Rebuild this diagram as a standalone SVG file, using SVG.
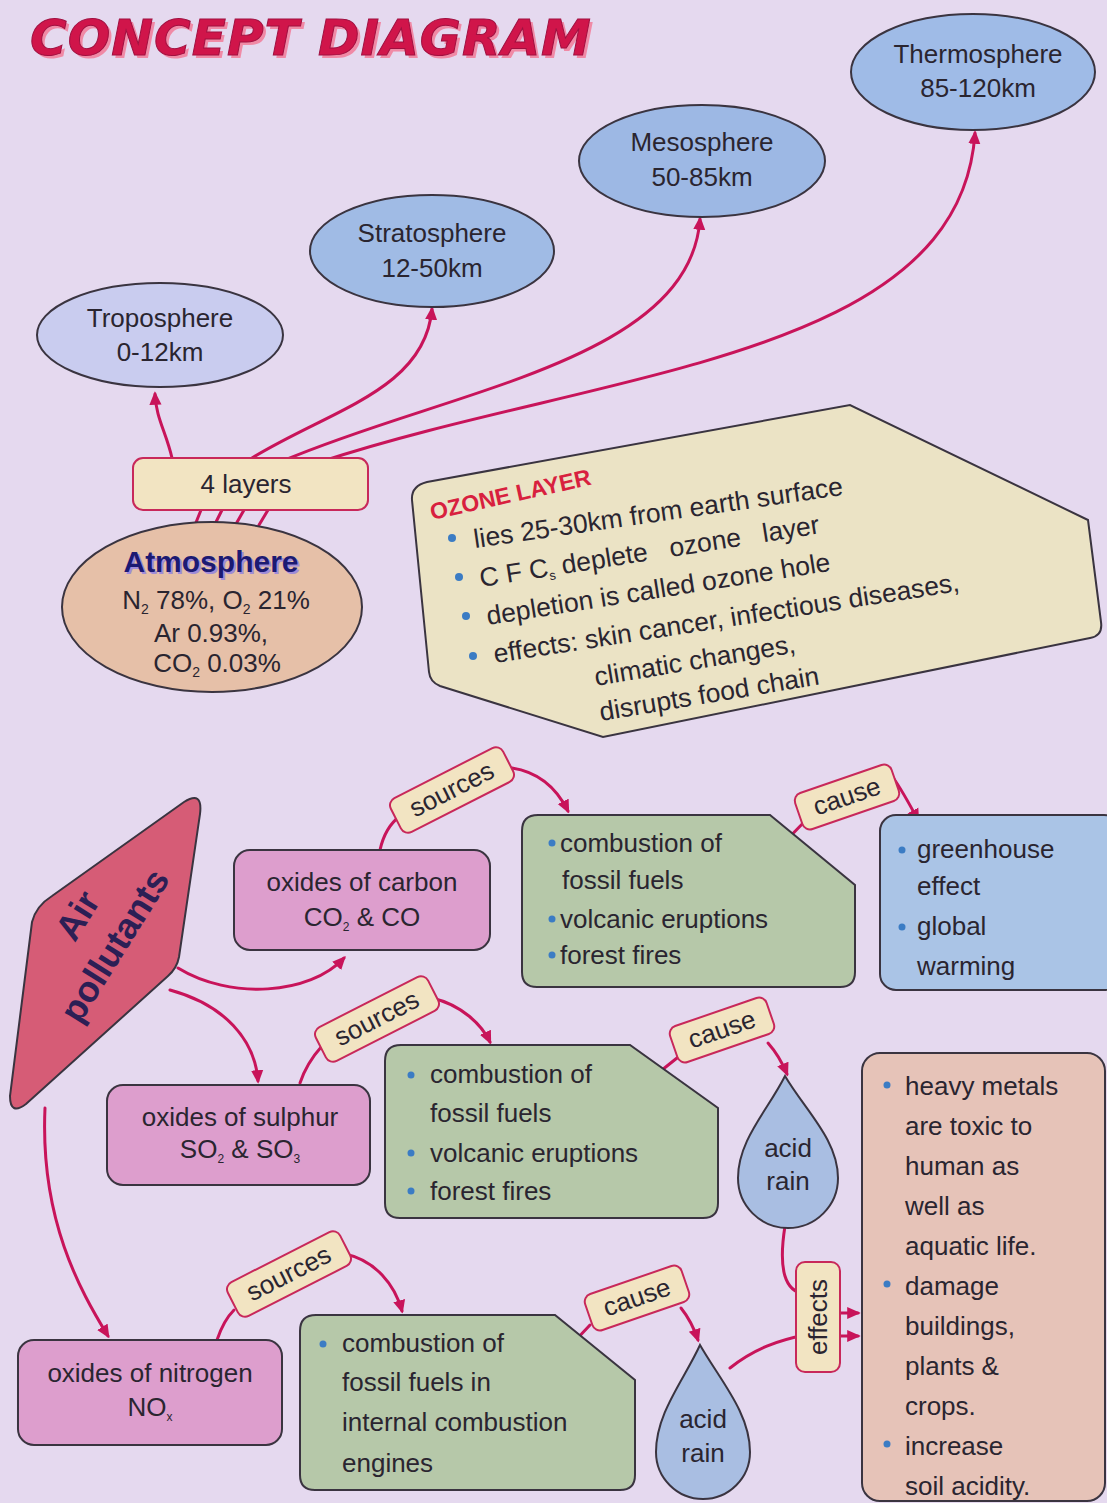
<svg xmlns="http://www.w3.org/2000/svg" width="1107" height="1503" viewBox="0 0 1107 1503">
<style>
.t{font-family:"Liberation Sans",Arial,sans-serif;fill:#2a2530;}
.c{text-anchor:middle;}
.f25{font-size:26px;}
.f24{font-size:26px;}
.node{stroke:#3a3440;stroke-width:2;}
.lbl{fill:#f2e4c2;stroke:#c8285a;stroke-width:2;}
.con{fill:none;stroke:#c8145a;stroke-width:3;stroke-linecap:round;}
.arr{marker-end:url(#ah);}
.dot{fill:#3b7cc4;}
</style>
<defs>
<marker id="ah" viewBox="0 0 10 10" refX="8" refY="5" markerWidth="4.5" markerHeight="4.5" orient="auto">
<path d="M0,0.5 L10,5 L0,9.5 Z" fill="#c8145a"/>
</marker>
</defs>
<rect x="0" y="0" width="1107" height="1503" fill="#e5d9ef"/>

<g id="title">
<text x="33" y="58" font-family="DejaVu Sans,sans-serif" font-weight="bold" font-style="italic" font-size="50" fill="#f08aa6" letter-spacing="1">CONCEPT DIAGRAM</text>
<text x="30" y="55" font-family="DejaVu Sans,sans-serif" font-weight="bold" font-style="italic" font-size="50" fill="#d0154a" stroke="#a01040" stroke-width="1" letter-spacing="1">CONCEPT DIAGRAM</text>
</g>

<g id="connectors">
<path class="con arr" d="M172,458 C166,432 156,418 155,394"/>
<path class="con arr" d="M252,458 C330,410 425,390 432,309"/>
<path class="con arr" d="M285,460 C450,390 690,360 700,219"/>
<path class="con arr" d="M320,462 C600,370 960,360 975,133"/>
<path class="con" d="M195,525 L201,510"/>
<path class="con" d="M215,524 L222,510"/>
<path class="con" d="M236,524 L244,510"/>
<path class="con" d="M259,525 L268,510"/>

<path class="con arr" d="M178,968 C230,1000 310,995 344,958"/>
<path class="con arr" d="M170,990 C225,1005 255,1040 258,1081"/>
<path class="con arr" d="M45,1108 C40,1220 80,1290 108,1336"/>

<path class="con" d="M380,850 C384,832 392,822 400,816"/>
<path class="con arr" d="M512,768 C545,773 560,795 568,811"/>
<path class="con" d="M300,1083 C305,1068 313,1056 322,1046"/>
<path class="con arr" d="M432,998 C462,1005 482,1025 490,1042"/>
<path class="con" d="M217,1340 C222,1325 228,1316 234,1310"/>
<path class="con arr" d="M345,1254 C375,1260 395,1285 402,1311"/>

<path class="con" d="M775,852 L808,818"/>
<path class="con arr" d="M892,776 C902,790 910,805 918,820"/>
<path class="con" d="M652,1078 L682,1054"/>
<path class="con arr" d="M768,1043 C776,1052 782,1062 787,1074"/>
<path class="con" d="M557,1360 L590,1325"/>
<path class="con arr" d="M681,1308 C689,1318 694,1328 698,1340"/>

<path class="con" d="M785,1226 C778,1270 785,1292 805,1294"/>
<path class="con" d="M730,1368 C755,1348 780,1340 805,1335"/>
<path class="con arr" d="M840,1313 L858,1313"/>
<path class="con arr" d="M840,1336 L858,1336"/>
</g>

<g id="troposphere">
<ellipse class="node" cx="160" cy="335" rx="123" ry="52" fill="#c9ccef"/>
<text class="t c f24" x="160" y="327">Troposphere</text>
<text class="t c f24" x="160" y="361">0-12km</text>
</g>
<g id="stratosphere">
<ellipse class="node" cx="432" cy="251" rx="122" ry="56" fill="#a0bbe5"/>
<text class="t c f24" x="432" y="242">Stratosphere</text>
<text class="t c f24" x="432" y="277">12-50km</text>
</g>
<g id="mesosphere">
<ellipse class="node" cx="702" cy="161" rx="123" ry="56" fill="#9db8e4"/>
<text class="t c f24" x="702" y="151">Mesosphere</text>
<text class="t c f24" x="702" y="186">50-85km</text>
</g>
<g id="thermosphere">
<ellipse class="node" cx="973" cy="72" rx="122" ry="58" fill="#9fbbe7"/>
<text class="t c f24" x="978" y="63">Thermosphere</text>
<text class="t c f24" x="978" y="97">85-120km</text>
</g>

<g id="layers">
<rect class="lbl" x="133" y="458" width="235" height="52" rx="10"/>
<text class="t c f24" x="246" y="493">4 layers</text>
</g>

<g id="atmosphere">
<ellipse class="node" cx="212" cy="607" rx="150" ry="85" fill="#e6c0a8"/>
<text x="213" y="574" text-anchor="middle" font-family="Liberation Sans,Arial,sans-serif" font-weight="bold" font-size="30" fill="#a08cd8">Atmosphere</text>
<text x="211" y="572" text-anchor="middle" font-family="Liberation Sans,Arial,sans-serif" font-weight="bold" font-size="30" fill="#1c1a72">Atmosphere</text>
<text class="t c f24" x="216" y="609">N<tspan font-size="14" dy="5">2</tspan><tspan dy="-5"> 78%, O</tspan><tspan font-size="14" dy="5">2</tspan><tspan dy="-5"> 21%</tspan></text>
<text class="t c f24" x="211" y="642">Ar 0.93%,</text>
<text class="t c f24" x="217" y="672">CO<tspan font-size="14" dy="5">2</tspan><tspan dy="-5"> 0.03%</tspan></text>
</g>

<g id="ozone">
<path class="node" fill="#ebe3c5" d="M427,482 L850,405 L1088,520 L1101,622 Q1103,636 1090,638 L603,737 L440,686 Q430,682 429,672 L412,500 Q411,486 427,482 Z"/>
<text transform="rotate(-12.5 432 520)" x="432" y="520" font-family="Liberation Sans,Arial,sans-serif" font-weight="bold" font-size="23" fill="#d8203e">OZONE LAYER</text>
<circle class="dot" cx="452" cy="538" r="4"/>
<text class="t" transform="rotate(-8.2 475 548)" x="475" y="548" font-size="26.5">lies 25-30km from earth surface</text>
<circle class="dot" cx="459" cy="577" r="4"/>
<text class="t" transform="rotate(-9 481 587)" x="481" y="587" font-size="26.5" style="white-space:pre">C F C<tspan font-size="13" dy="4">s</tspan><tspan dy="-4"> deplete   ozone   layer</tspan></text>
<circle class="dot" cx="466" cy="616" r="4"/>
<text class="t" transform="rotate(-9 488 625)" x="488" y="625" font-size="26.5">depletion is called ozone hole</text>
<circle class="dot" cx="473" cy="656" r="4"/>
<text class="t" transform="rotate(-8.8 495 663)" x="495" y="663" font-size="26.5">effects: skin cancer, infectious diseases,</text>
<text class="t" transform="rotate(-9.5 596 686)" x="596" y="686" font-size="26.5">climatic changes,</text>
<text class="t" transform="rotate(-9.5 601 721)" x="601" y="721" font-size="26.5">disrupts food chain</text>
</g>

<g id="air-pollutants">
<path class="node" fill="#d65c76" d="M32,922 Q36,906 52,896 L184,802 Q203,790 200,814 L179,957 Q177,968 168,976 L26,1104 Q10,1116 10,1096 Z"/>
<text transform="rotate(-58 88 922)" x="88" y="922" text-anchor="middle" font-family="Liberation Sans,Arial,sans-serif" font-weight="bold" font-size="36" fill="#2c1f55">Air</text>
<text transform="rotate(-58 125 952)" x="125" y="952" text-anchor="middle" font-family="Liberation Sans,Arial,sans-serif" font-weight="bold" font-size="36" fill="#2c1f55">pollutants</text>
</g>

<g id="oxides-carbon">
<rect class="node" x="234" y="850" width="256" height="100" rx="16" fill="#dd9ecd"/>
<text class="t c f24" x="362" y="891">oxides of carbon</text>
<text class="t c f24" x="362" y="926">CO<tspan font-size="12" dy="5">2</tspan><tspan dy="-5"> &amp; CO</tspan></text>
</g>
<g id="oxides-sulphur">
<rect class="node" x="107" y="1085" width="263" height="100" rx="16" fill="#dd9ecd"/>
<text class="t c f24" x="240" y="1126">oxides of sulphur</text>
<text class="t c f24" x="240" y="1158">SO<tspan font-size="12" dy="5">2</tspan><tspan dy="-5"> &amp; SO</tspan><tspan font-size="12" dy="5">3</tspan></text>
</g>
<g id="oxides-nitrogen">
<rect class="node" x="18" y="1340" width="264" height="105" rx="16" fill="#dd9ecd"/>
<text class="t c f24" x="150" y="1382">oxides of nitrogen</text>
<text class="t c f24" x="150" y="1416">NO<tspan font-size="12" dy="5">x</tspan></text>
</g>

<g id="sources-1">
<rect class="lbl" x="-63" y="-19" width="126" height="38" rx="8" transform="translate(452,790) rotate(-27)"/>
<text class="t c f24" transform="translate(452,790) rotate(-27)" x="0" y="8">sources</text>
</g>
<g id="sources-2">
<rect class="lbl" x="-63" y="-19" width="126" height="38" rx="8" transform="translate(377,1019) rotate(-27)"/>
<text class="t c f24" transform="translate(377,1019) rotate(-27)" x="0" y="8">sources</text>
</g>
<g id="sources-3">
<rect class="lbl" x="-63" y="-19" width="126" height="38" rx="8" transform="translate(289,1274) rotate(-27)"/>
<text class="t c f24" transform="translate(289,1274) rotate(-27)" x="0" y="8">sources</text>
</g>

<g id="cause-1">
<rect class="lbl" x="-51" y="-19" width="102" height="38" rx="8" transform="translate(847,797) rotate(-19)"/>
<text class="t c f24" transform="translate(847,797) rotate(-19)" x="0" y="8">cause</text>
</g>
<g id="cause-2">
<rect class="lbl" x="-51" y="-19" width="102" height="38" rx="8" transform="translate(722,1030) rotate(-19)"/>
<text class="t c f24" transform="translate(722,1030) rotate(-19)" x="0" y="8">cause</text>
</g>
<g id="cause-3">
<rect class="lbl" x="-51" y="-19" width="102" height="38" rx="8" transform="translate(637,1298) rotate(-19)"/>
<text class="t c f24" transform="translate(637,1298) rotate(-19)" x="0" y="8">cause</text>
</g>

<g id="sources-carbon">
<path class="node" fill="#b6c8a9" d="M538,815 L770,815 L855,885 L855,972 Q855,987 840,987 L537,987 Q522,987 522,972 L522,831 Q522,815 538,815 Z"/>
<circle class="dot" cx="552" cy="843" r="3.5"/>
<text class="t f25" x="560" y="852">combustion of</text>
<text class="t f25" x="562" y="889">fossil fuels</text>
<circle class="dot" cx="552" cy="919" r="3.5"/>
<text class="t f25" x="560" y="928">volcanic eruptions</text>
<circle class="dot" cx="552" cy="955" r="3.5"/>
<text class="t f25" x="560" y="964">forest fires</text>
</g>

<g id="effects-carbon">
<rect class="node" x="880" y="815" width="240" height="175" rx="16" fill="#aac4e6"/>
<circle class="dot" cx="902" cy="850" r="3.5"/>
<text class="t f25" x="917" y="858">greenhouse</text>
<text class="t f25" x="917" y="895">effect</text>
<circle class="dot" cx="902" cy="927" r="3.5"/>
<text class="t f25" x="917" y="935">global</text>
<text class="t f25" x="917" y="975">warming</text>
</g>

<g id="sources-sulphur">
<path class="node" fill="#b6c8a9" d="M401,1045 L630,1045 L718,1108 L718,1203 Q718,1218 703,1218 L400,1218 Q385,1218 385,1203 L385,1061 Q385,1045 401,1045 Z"/>
<circle class="dot" cx="411" cy="1075" r="3.5"/>
<text class="t f25" x="430" y="1083">combustion of</text>
<text class="t f25" x="430" y="1122">fossil fuels</text>
<circle class="dot" cx="411" cy="1153" r="3.5"/>
<text class="t f25" x="430" y="1162">volcanic eruptions</text>
<circle class="dot" cx="411" cy="1191" r="3.5"/>
<text class="t f25" x="430" y="1200">forest fires</text>
</g>

<g id="sources-nitrogen">
<path class="node" fill="#b6c8a9" d="M316,1315 L555,1315 L635,1380 L635,1475 Q635,1490 620,1490 L315,1490 Q300,1490 300,1475 L300,1331 Q300,1315 316,1315 Z"/>
<circle class="dot" cx="323" cy="1344" r="3.5"/>
<text class="t f25" x="342" y="1352">combustion of</text>
<text class="t f25" x="342" y="1391">fossil fuels in</text>
<text class="t f25" x="342" y="1431">internal combustion</text>
<text class="t f25" x="342" y="1472">engines</text>
</g>

<g id="acid-rain-1">
<path class="node" fill="#a9bee2" d="M785,1076 C805,1110 838,1140 838,1178 A50,50 0 0 1 738,1178 C738,1140 768,1110 785,1076 Z"/>
<text class="t c f24" x="788" y="1157">acid</text>
<text class="t c f24" x="788" y="1190">rain</text>
</g>
<g id="acid-rain-2">
<path class="node" fill="#a9bee2" d="M700,1345 C720,1380 750,1413 750,1452 A47,47 0 0 1 656,1452 C656,1413 684,1380 700,1345 Z"/>
<text class="t c f24" x="703" y="1428">acid</text>
<text class="t c f24" x="703" y="1462">rain</text>
</g>

<g id="effects">
<rect class="lbl" x="796" y="1262" width="44" height="110" rx="9"/>
<text class="t c f24" transform="rotate(-90 827 1317)" x="827" y="1317">effects</text>
</g>

<g id="acid-rain-effects">
<rect class="node" x="862" y="1053" width="243" height="448" rx="18" fill="#e6c3b8"/>
<circle class="dot" cx="887" cy="1085" r="3.5"/>
<text class="t f25" x="905" y="1095">heavy metals</text>
<text class="t f25" x="905" y="1135">are toxic to</text>
<text class="t f25" x="905" y="1175">human as</text>
<text class="t f25" x="905" y="1215">well as</text>
<text class="t f25" x="905" y="1255">aquatic life.</text>
<circle class="dot" cx="887" cy="1284" r="3.5"/>
<text class="t f25" x="905" y="1295">damage</text>
<text class="t f25" x="905" y="1335">buildings,</text>
<text class="t f25" x="905" y="1375">plants &amp;</text>
<text class="t f25" x="905" y="1415">crops.</text>
<circle class="dot" cx="887" cy="1444" r="3.5"/>
<text class="t f25" x="905" y="1455">increase</text>
<text class="t f25" x="905" y="1495">soil acidity.</text>
</g>
</svg>
